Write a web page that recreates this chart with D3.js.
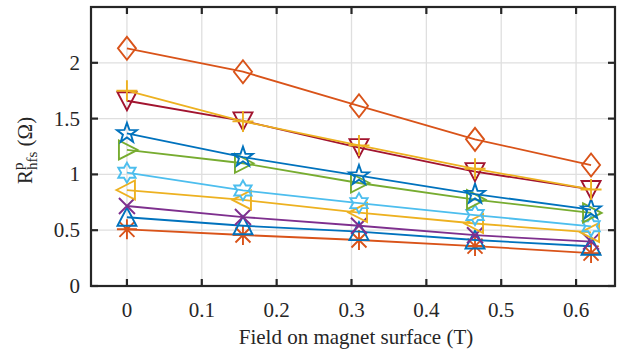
<!DOCTYPE html>
<html>
<head>
<meta charset="utf-8">
<script src="https://cdn.jsdelivr.net/npm/d3@7"></script>
<style>
  body { margin: 0; background: #fff; }
  svg { display: block; }
</style>
</head>
<body>
<svg id="chart"></svg>
<script>
const fieldT = [0, 0.155, 0.31, 0.465, 0.62]

// one array per curve, bottom to top
const rAsterisk = [0.508, 0.457, 0.412, 0.358, 0.295]
const rTriUp    = [0.616, 0.540, 0.487, 0.412, 0.356]
const rCross    = [0.717, 0.618, 0.540, 0.455, 0.397]
const rTriLeft  = [0.860, 0.771, 0.658, 0.560, 0.480]
const rHexagram = [1.015, 0.856, 0.743, 0.636, 0.535]
const rTriRight = [1.219, 1.100, 0.923, 0.774, 0.655]
const rPenta    = [1.368, 1.155, 0.990, 0.823, 0.685]
const rTriDown  = [1.660, 1.480, 1.240, 1.025, 0.865]
const rPlus     = [1.750, 1.475, 1.260, 1.050, 0.865]
const rDiamond  = [2.130, 1.920, 1.615, 1.314, 1.084]

const xTicks = [0, 0.1, 0.2, 0.3, 0.4, 0.5, 0.6]
const yTicks = [0, 0.5, 1, 1.5, 2]

const series = [
  {values: rAsterisk, color: "#D95319", marker: "asterisk"},
  {values: rTriUp,    color: "#0072BD", marker: "triUp"},
  {values: rCross,    color: "#7E2F8E", marker: "cross"},
  {values: rTriLeft,  color: "#EDB120", marker: "triLeft"},
  {values: rHexagram, color: "#4DBEEE", marker: "hexagram"},
  {values: rTriRight, color: "#77AC30", marker: "triRight"},
  {values: rPenta,    color: "#0072BD", marker: "pentagram"},
  {values: rTriDown,  color: "#A2142F", marker: "triDown"},
  {values: rPlus,     color: "#EDB120", marker: "plus"},
  {values: rDiamond,  color: "#D95319", marker: "diamond"}
]

const width = 618, height = 356
const mLeft = 91, mRight = 615, mTop = 7, mBottom = 286
const serif = "Liberation Serif"

const svg = d3.select("#chart")
  .attr("width", width)
  .attr("height", height)

const x = d3.scaleLinear().domain([-0.048, 0.652]).range([mLeft, mRight])
const y = d3.scaleLinear().domain([0, 2.5]).range([mBottom, mTop])

// star helper
function star(n, ro, ri) {
  const pts = []
  for (let i = 0; i < 2 * n; i++) {
    const a = -Math.PI / 2 + i * Math.PI / n
    const r = i % 2 ? ri : ro
    pts.push([r * Math.cos(a), r * Math.sin(a)])
  }
  return "M" + pts.map(p => p[0].toFixed(2) + "," + p[1].toFixed(2)).join("L") + "Z"
}

const markerPath = {
  diamond: "M0,-11.5L9,0L0,11.5L-9,0Z",
  plus: "M-10.5,0H10.5M0,-10.5V10.5",
  cross: "M-8,-8L8,8M-8,8L8,-8",
  asterisk: "M-10,0H10M0,-10V10M-7.5,-7.5L7.5,7.5M-7.5,7.5L7.5,-7.5",
  triUp: "M0,-9.5L9.5,8.5L-9.5,8.5Z",
  triDown: "M0,9.5L9.5,-8.5L-9.5,-8.5Z",
  triLeft: "M-10.5,0L8,-9.5L8,9.5Z",
  triRight: "M10.5,0L-8,-9.5L-8,9.5Z",
  pentagram: star(5, 10.5, 4.2),
  hexagram: star(6, 10, 5.8)
}

// grid
svg.append("g")
  .selectAll("line")
  .data(xTicks)
  .join("line")
  .attr("x1", d => x(d)).attr("x2", d => x(d))
  .attr("y1", mTop).attr("y2", mBottom)
  .attr("stroke", "#dfdfdf").attr("stroke-width", 1.3)

svg.append("g")
  .selectAll("line")
  .data(yTicks)
  .join("line")
  .attr("x1", mLeft).attr("x2", mRight)
  .attr("y1", d => y(d)).attr("y2", d => y(d))
  .attr("stroke", "#dfdfdf").attr("stroke-width", 1.3)

// curves
const line = d3.line()
  .x((d, i) => x(fieldT[i]))
  .y(d => y(d))

const plot = svg.append("g")

series.forEach(s => {
  plot.append("path")
    .attr("d", line(s.values))
    .attr("fill", "none")
    .attr("stroke", s.color)
    .attr("stroke-width", 1.8)

  plot.append("g")
    .selectAll("path")
    .data(s.values)
    .join("path")
    .attr("transform", (d, i) => `translate(${x(fieldT[i])},${y(d)})`)
    .attr("d", markerPath[s.marker])
    .attr("fill", "none")
    .attr("stroke", s.color)
    .attr("stroke-width", 1.9)
})

// axes box with inward ticks
const axisColor = "#262626"
const tickLen = 7

svg.append("rect")
  .attr("x", mLeft).attr("y", mTop)
  .attr("width", mRight - mLeft).attr("height", mBottom - mTop)
  .attr("fill", "none")
  .attr("stroke", axisColor)
  .attr("stroke-width", 2.2)

const ticks = svg.append("g").attr("stroke", axisColor).attr("stroke-width", 2.2)
xTicks.forEach(t => {
  ticks.append("line").attr("x1", x(t)).attr("x2", x(t)).attr("y1", mBottom).attr("y2", mBottom - tickLen)
  ticks.append("line").attr("x1", x(t)).attr("x2", x(t)).attr("y1", mTop).attr("y2", mTop + tickLen)
})
yTicks.forEach(t => {
  ticks.append("line").attr("x1", mLeft).attr("x2", mLeft + tickLen).attr("y1", y(t)).attr("y2", y(t))
  ticks.append("line").attr("x1", mRight).attr("x2", mRight - tickLen).attr("y1", y(t)).attr("y2", y(t))
})

// tick labels
svg.append("g")
  .selectAll("text")
  .data(xTicks)
  .join("text")
  .attr("x", d => x(d))
  .attr("y", 317)
  .attr("text-anchor", "middle")
  .attr("font-family", serif)
  .attr("font-size", 21)
  .attr("fill", "#262626")
  .text(d => d)

svg.append("g")
  .selectAll("text")
  .data(yTicks)
  .join("text")
  .attr("x", 80)
  .attr("y", d => y(d) + 7)
  .attr("text-anchor", "end")
  .attr("font-family", serif)
  .attr("font-size", 21)
  .attr("fill", "#262626")
  .text(d => d)

// axis titles
svg.append("text")
  .attr("x", (mLeft + mRight) / 2 + 3)
  .attr("y", 344)
  .attr("text-anchor", "middle")
  .attr("font-family", serif)
  .attr("font-size", 21)
  .attr("fill", "#262626")
  .text("Field on magnet surface (T)")

const yl = svg.append("text")
  .attr("transform", `translate(32,184) rotate(-90)`)
  .attr("font-family", serif)
  .attr("font-size", 21)
  .attr("fill", "#262626")
yl.append("tspan").text("R")
yl.append("tspan").attr("font-size", 15).attr("dy", -9).text("p")
yl.append("tspan").attr("font-size", 15).attr("dx", -7.5).attr("dy", 14).text("hfs")
yl.append("tspan").attr("dy", -5).text(" (Ω)")
</script>
</body>
</html>
